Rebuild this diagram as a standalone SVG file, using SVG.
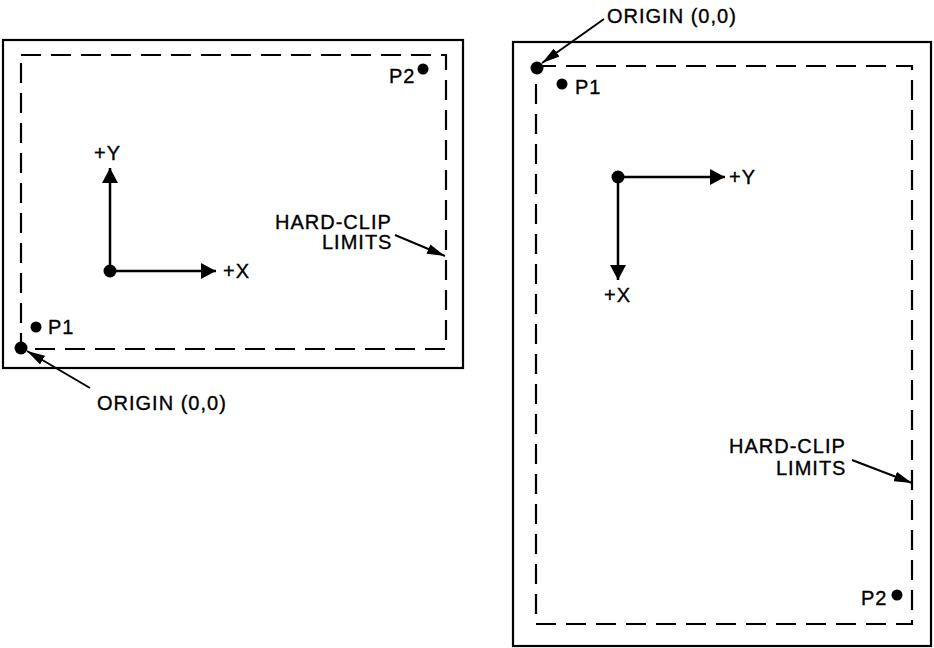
<svg xmlns="http://www.w3.org/2000/svg" width="934" height="648" viewBox="0 0 934 648">
<defs>
<style>
.frame{fill:none;stroke:#000;stroke-width:2.2}
.clip{fill:none;stroke:#000;stroke-width:2.2;stroke-dasharray:20 10}
.axis{stroke:#000;stroke-width:2.5;fill:none}
.lead{stroke:#000;stroke-width:2;fill:none}
.dot{fill:#000}
text{font-family:"Liberation Sans",Arial,Helvetica,sans-serif;font-size:20px;letter-spacing:1px;fill:#000;stroke:#000;stroke-width:0.35}
</style>
<marker id="ah" markerUnits="userSpaceOnUse" viewBox="0 0 15 16" refX="15" refY="8" markerWidth="15" markerHeight="16" orient="auto">
<path d="M0,0 L15,8 L0,16 z" fill="#000"/>
</marker>
<marker id="lh" markerUnits="userSpaceOnUse" viewBox="0 0 18 10" refX="18" refY="5" markerWidth="18" markerHeight="10" orient="auto">
<path d="M0,0 L18,5 L0,10 z" fill="#000"/>
</marker>
</defs>
<rect width="934" height="648" fill="#fff"/>

<g id="left-panel">
<rect id="left-page" class="frame" x="3" y="40" width="460" height="328"/>
<rect id="left-hardclip" class="clip" x="21" y="55" width="425" height="294"/>
<g id="left-origin"><circle class="dot" cx="21" cy="348" r="6.5"/><text x="97" y="410">ORIGIN (0,0)</text></g>
<g id="left-p1"><circle class="dot" cx="36" cy="327" r="5.5"/><text x="48" y="334">P1</text></g>
<g id="left-p2"><circle class="dot" cx="423" cy="69" r="5.5"/><text x="389" y="83">P2</text></g>
<g id="left-axis-origin"><circle class="dot" cx="110" cy="271" r="6.5"/></g>
<g id="left-plusY"><text x="94" y="160">+Y</text></g>
<g id="left-plusX"><text x="223" y="278">+X</text></g>
<g id="left-hcl-label"><text x="275" y="229">HARD-CLIP</text><text x="322" y="249">LIMITS</text></g>
</g>

<g id="right-panel">
<rect id="right-page" class="frame" x="513" y="42" width="418" height="604"/>
<rect id="right-hardclip" class="clip" x="536" y="66" width="376" height="558"/>
<g id="right-origin"><circle class="dot" cx="537" cy="68" r="6.5"/><text x="607" y="23">ORIGIN (0,0)</text></g>
<g id="right-p1"><circle class="dot" cx="562" cy="84" r="5.5"/><text x="575" y="94">P1</text></g>
<g id="right-p2"><circle class="dot" cx="897" cy="595" r="5.5"/><text x="861" y="605">P2</text></g>
<g id="right-axis-origin"><circle class="dot" cx="618" cy="177" r="6.5"/></g>
<g id="right-plusY"><text x="729" y="184">+Y</text></g>
<g id="right-plusX"><text x="604" y="302">+X</text></g>
<g id="right-hcl-label"><text x="729" y="453">HARD-CLIP</text><text x="776" y="475">LIMITS</text></g>
</g>

<g id="connectors">
<line class="axis" x1="110" y1="271" x2="110" y2="168" marker-end="url(#ah)"/>
<line class="axis" x1="110" y1="271" x2="216" y2="271" marker-end="url(#ah)"/>
<line class="lead" x1="395" y1="235" x2="445" y2="256" marker-end="url(#lh)"/>
<line class="lead" x1="90" y1="388" x2="27" y2="351" marker-end="url(#lh)"/>
<line class="axis" x1="618" y1="177" x2="725" y2="177" marker-end="url(#ah)"/>
<line class="axis" x1="618" y1="177" x2="618" y2="280" marker-end="url(#ah)"/>
<line class="lead" x1="604" y1="19" x2="542" y2="63" marker-end="url(#lh)"/>
<line class="lead" x1="852" y1="460" x2="912" y2="483" marker-end="url(#lh)"/>
</g>
</svg>
